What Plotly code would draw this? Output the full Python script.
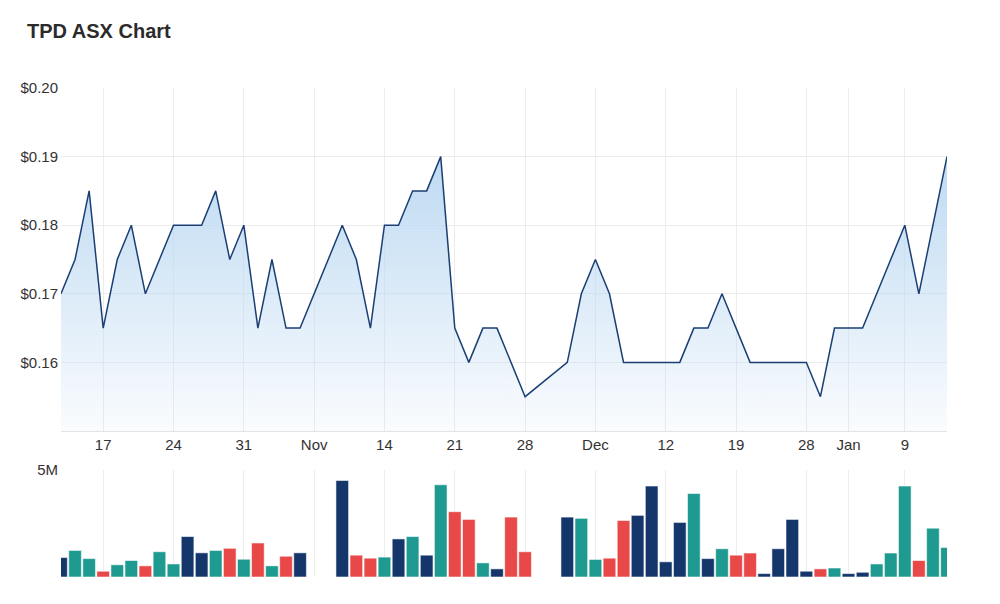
import plotly.graph_objects as go
from plotly.subplots import make_subplots

# Trading days (categories)
dates = [
    "2022-10-12", "2022-10-13", "2022-10-14",
    "2022-10-17", "2022-10-18", "2022-10-19", "2022-10-20", "2022-10-21",
    "2022-10-24", "2022-10-25", "2022-10-26", "2022-10-27", "2022-10-28",
    "2022-10-31", "2022-11-01", "2022-11-02", "2022-11-03", "2022-11-04",
    "2022-11-07", "2022-11-08", "2022-11-09", "2022-11-10", "2022-11-11",
    "2022-11-14", "2022-11-15", "2022-11-16", "2022-11-17", "2022-11-18",
    "2022-11-21", "2022-11-22", "2022-11-23", "2022-11-24", "2022-11-25",
    "2022-11-28", "2022-11-29", "2022-11-30", "2022-12-01", "2022-12-02",
    "2022-12-05", "2022-12-06", "2022-12-07", "2022-12-08", "2022-12-09",
    "2022-12-12", "2022-12-13", "2022-12-14", "2022-12-15", "2022-12-16",
    "2022-12-19", "2022-12-20", "2022-12-21", "2022-12-22", "2022-12-23",
    "2022-12-28", "2022-12-29", "2022-12-30",
    "2023-01-03", "2023-01-04", "2023-01-05", "2023-01-06",
    "2023-01-09", "2023-01-10", "2023-01-11", "2023-01-12",
]

close_price = [
    0.170, 0.175, 0.185, 0.165, 0.175, 0.180, 0.170, 0.175, 0.180, 0.180,
    0.180, 0.185, 0.175, 0.180, 0.165, 0.175, 0.165, 0.165, None, None,
    0.180, 0.175, 0.165, 0.180, 0.180, 0.185, 0.185, 0.190, 0.165, 0.160,
    0.165, 0.165, 0.160, 0.155, None, None, 0.160, 0.170, 0.175, 0.170,
    0.160, 0.160, 0.160, 0.160, 0.160, 0.165, 0.165, 0.170, 0.165, 0.160,
    0.160, 0.160, 0.160, 0.160, 0.155, 0.165, 0.165, 0.165, 0.170, 0.175,
    0.180, 0.170, 0.180, 0.190,
]

volume = [
    0.91e6, 1.24e6, 0.86e6, 0.27e6, 0.57e6, 0.77e6, 0.52e6, 1.18e6, 0.61e6, 1.89e6,
    1.13e6, 1.24e6, 1.34e6, 0.83e6, 1.59e6, 0.52e6, 0.97e6, 1.13e6, 0, 0,
    4.51e6, 1.02e6, 0.88e6, 0.93e6, 1.78e6, 1.89e6, 1.02e6, 4.31e6, 3.05e6, 2.69e6,
    0.66e6, 0.38e6, 2.80e6, 1.18e6, 0, 0, 2.80e6, 2.74e6, 0.82e6, 0.88e6,
    2.64e6, 2.88e6, 4.25e6, 0.71e6, 2.55e6, 3.90e6, 0.86e6, 1.32e6, 1.02e6, 1.12e6,
    0.16e6, 1.32e6, 2.69e6, 0.27e6, 0.38e6, 0.42e6, 0.16e6, 0.22e6, 0.61e6, 1.12e6,
    4.25e6, 0.77e6, 2.28e6, 1.38e6,
]

tick_dates = ["2022-10-17", "2022-10-24", "2022-10-31", "2022-11-07", "2022-11-14",
              "2022-11-21", "2022-11-28", "2022-12-05", "2022-12-12", "2022-12-19",
              "2022-12-28", "2023-01-03", "2023-01-09"]
tick_labels = ["17", "24", "31", "Nov", "14", "21", "28", "Dec", "12", "19", "28", "Jan", "9"]

price_ticks = [0.16, 0.17, 0.18, 0.19, 0.20]
price_tick_labels = ["$0.16", "$0.17", "$0.18", "$0.19", "$0.20"]

NAVY = "#14366b"
TEAL = "#1f9a90"
RED = "#e84848"

bar_colors = []
for i, p in enumerate(close_price):
    prev = close_price[i - 1] if i > 0 else None
    if p is None or prev is None:
        bar_colors.append(NAVY)
    elif p > prev:
        bar_colors.append(TEAL)
    elif p < prev:
        bar_colors.append(RED)
    else:
        bar_colors.append(NAVY)

fig = make_subplots(rows=2, cols=1, shared_xaxes=False)

fig.add_trace(go.Scatter(
    x=dates, y=close_price, mode="lines", connectgaps=True,
    line=dict(color="#1b3f74", width=1.5),
    fill="tozeroy",
    fillgradient=dict(type="vertical", start=0.15, stop=0.19,
                      colorscale=[[0, "rgba(190,218,242,0.08)"], [1, "rgba(190,218,242,1)"]]),
    hoverinfo="skip", showlegend=False,
), row=1, col=1)

fig.add_trace(go.Bar(
    x=dates, y=volume,
    marker=dict(color=bar_colors, line=dict(color="rgba(255,255,255,0.55)", width=1)),
    showlegend=False,
), row=2, col=1)

FONT = "Liberation Sans, Arial, sans-serif"
GRID = "#ececec"

fig.update_layout(
    width=1000, height=604,
    margin=dict(l=61, r=53, t=88, b=27),
    paper_bgcolor="white", plot_bgcolor="white",
    bargap=0.1,
    font=dict(family=FONT, size=15, color="#333333"),
    title=dict(text="<b>TPD ASX Chart</b>", x=0.027, xanchor="left", xref="container",
               y=1 - 31 / 604, yanchor="middle", yref="container",
               font=dict(family=FONT, size=20, color="#2b2b2b")),
    xaxis=dict(domain=[0, 1], anchor="y", type="category", range=[0, 63],
               tickmode="array", tickvals=tick_dates, ticktext=tick_labels,
               showgrid=True, gridcolor=GRID, showline=True, linecolor="#e3e3e3",
               ticks="", zeroline=False),
    yaxis=dict(domain=[146 / 489, 1], anchor="x", range=[0.15, 0.20],
               tickmode="array", tickvals=price_ticks, ticktext=price_tick_labels,
               showgrid=True, gridcolor=GRID, zeroline=False, ticks="",
               ticklabelstandoff=2),
    xaxis2=dict(domain=[0, 1], anchor="y2", type="category", range=[0, 63],
                tickmode="array", tickvals=tick_dates, showticklabels=False,
                showgrid=True, gridcolor=GRID, showline=False, ticks="", zeroline=False,
                matches="x"),
    yaxis2=dict(domain=[0, 107 / 489], anchor="x2", range=[0, 5e6],
                tickmode="array", tickvals=[5e6], ticktext=["5M"],
                showgrid=True, gridcolor="#e3e3e3", zeroline=False, ticks="",
                ticklabelstandoff=2),
)

fig.write_html("out.html")
